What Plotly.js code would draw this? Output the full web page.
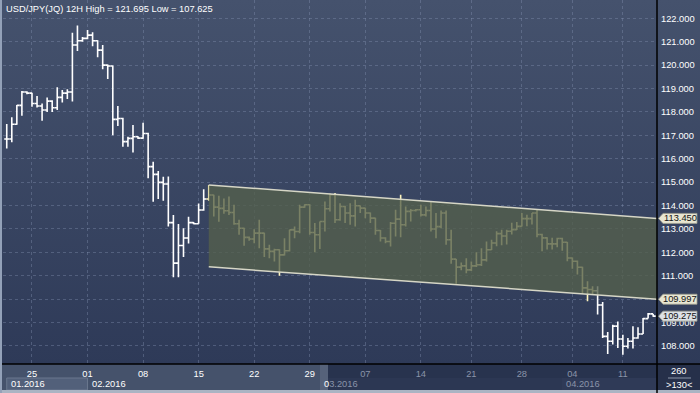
<!DOCTYPE html>
<html><head><meta charset="utf-8">
<script src="https://cdn.plot.ly/plotly-3.0.1.min.js"></script>
<style>
html,body{margin:0;padding:0;background:#2e3a58;}
#chart{width:700px;height:393px;background:linear-gradient(to bottom,#45526d 0px,#2e3a58 364px,#2e3a58 393px);}
</style></head><body><div id="chart"></div>
<script>
// ---- data (12H bars, USD/JPY) ----
const openP = [
116.84,116.84,117.47,118.28,118.85,118.80,118.36,118.25,118.08,118.46,
118.18,118.62,118.80,118.85,120.86,121.04,121.14,121.28,121.04,120.64,
120.00,119.96,117.68,117.72,116.73,116.87,116.94,116.88,117.08,115.66,
115.33,114.99,114.92,113.27,111.54,112.29,112.61,113.27,113.22,113.81,
114.28,114.45,113.93,113.88,113.78,113.70,113.22,113.03,112.64,112.57,
112.82,112.82,112.15,112.04,112.11,111.89,112.07,112.96,112.89,113.93,
114.03,112.85,112.75,113.32,113.86,114.46,113.39,113.96,113.68,113.56,
113.99,113.89,113.68,113.46,112.93,112.61,112.46,113.24,113.42,113.18,
113.75,113.79,113.82,113.60,113.79,113.00,113.10,113.68,112.54,111.71,
111.37,111.42,111.25,111.42,111.47,111.68,112.11,112.40,112.80,112.70,
112.90,112.97,113.11,113.44,113.44,113.68,112.76,112.62,112.36,112.36,
112.59,112.43,111.76,111.62,111.36,110.48,110.41,110.36,109.75,108.41,
108.20,108.85,108.30,107.99,108.20,108.34,108.51,109.17,109.37];
const highP = [
117.48,117.77,118.29,118.89,118.88,118.82,118.68,118.36,118.62,118.50,
119.05,118.93,118.97,121.38,121.695,121.20,121.50,121.40,121.06,120.86,
120.02,119.98,118.25,117.75,116.94,117.44,116.96,117.54,117.11,115.87,
115.47,115.23,115.24,113.59,113.21,113.03,113.52,113.30,114.09,114.69,
114.88,114.46,114.42,114.30,114.39,114.03,113.39,113.05,112.68,112.99,
113.39,112.84,112.32,112.15,112.13,112.60,112.96,113.10,114.03,114.05,
114.05,113.25,113.32,114.17,114.50,114.53,114.10,113.98,114.10,114.25,
114.00,113.90,113.70,113.48,112.95,112.65,113.30,113.82,114.46,113.96,
113.85,113.85,114.03,113.96,114.15,113.68,113.79,113.79,112.96,111.72,
111.57,111.75,111.61,112.00,112.18,112.46,112.54,112.90,112.97,112.97,
113.26,113.30,113.68,113.61,113.68,113.83,112.79,112.64,112.62,112.62,
112.62,112.44,111.78,111.65,111.38,110.76,110.55,110.55,109.88,108.60,
108.91,109.05,108.48,108.34,108.84,108.80,109.20,109.41,109.37];
const lowP = [
116.44,116.70,117.45,117.84,118.75,118.22,118.19,117.62,118.00,118.00,
118.08,118.40,118.55,118.44,120.60,121.00,121.10,120.80,120.33,119.82,
119.40,117.00,117.40,116.51,116.51,116.26,116.84,116.85,115.16,114.16,
114.28,114.20,113.10,110.94,110.94,111.80,112.38,113.20,113.22,113.78,
114.20,113.53,113.31,113.65,113.60,113.18,112.75,112.28,112.50,112.39,
112.18,111.80,111.75,111.61,111.00,111.87,112.04,112.60,112.82,113.90,
112.75,112.00,112.14,112.89,113.75,113.25,113.35,113.25,113.18,113.10,
113.68,113.46,113.25,112.75,112.46,112.39,112.25,112.68,112.65,113.10,
113.32,113.75,113.53,113.53,112.89,112.60,113.03,112.32,111.51,110.66,
111.23,111.11,111.20,111.37,111.42,111.61,112.10,112.26,112.30,112.33,
112.76,112.95,113.10,113.11,113.19,112.64,112.05,112.12,112.12,112.22,
112.07,111.62,111.30,111.05,110.22,109.91,110.22,109.34,108.34,107.66,
108.06,107.91,107.625,107.89,107.89,108.31,108.51,109.17,109.25];
const closeP = [
116.84,117.47,118.28,118.85,118.80,118.36,118.25,118.08,118.46,118.18,
118.62,118.80,118.85,120.86,121.04,121.14,121.28,121.04,120.64,120.00,
119.96,117.68,117.72,116.73,116.87,116.94,116.88,117.08,115.66,115.33,
114.99,114.92,113.27,111.54,112.29,112.61,113.27,113.22,113.81,114.28,
114.45,113.93,113.88,113.78,113.70,113.22,113.03,112.64,112.57,112.82,
112.82,112.15,112.04,112.11,111.89,112.07,112.96,112.89,113.93,114.03,
112.85,112.75,113.32,113.86,114.46,113.39,113.96,113.68,113.56,113.99,
113.89,113.68,113.46,112.93,112.61,112.46,113.24,113.42,113.18,113.75,
113.79,113.82,113.60,113.79,113.00,113.10,113.68,112.54,111.71,111.37,
111.42,111.25,111.42,111.47,111.68,112.11,112.40,112.80,112.70,112.90,
112.97,113.11,113.44,113.44,113.68,112.76,112.62,112.36,112.36,112.59,
112.43,111.76,111.62,111.36,110.48,110.41,110.36,109.75,108.41,108.20,
108.85,108.30,107.99,108.20,108.34,108.51,109.17,109.37,109.275];

// bar positions (one slot per 12H bar)
const barIdx = openP.map((_, i) => i);
// regression channel bars (highlighted) and channel lines
const channelBars = [40, 116];
const channelX = [40, 128.76];
const channelUpper = [114.88, 113.45];
const channelLower = [111.38, 109.997];

// axis labels
const dayTickIdx = [5, 16, 27, 38, 49, 60, 71, 82, 92, 102, 112, 122];
const dayTickLabels = ["25","01","08","15","22","29","07","14","21","28","04","11"];
const monthStartIdx = [0, 16, 62, 110];
const monthLabels = ["01.2016","02.2016","03.2016","04.2016"];
const priceTicks = [108,109,110,111,112,113,114,115,116,117,118,119,120,121,122];
const hiddenPriceTicks = [110];   // covered by the channel callout
const symbolName = "USD/JPY(JQ) 12H";
const barCountText = ["260", ">130<"];

// ---- helpers ----
const FONT = '"Liberation Sans", Arial, sans-serif';
const FS = 9.3;
const px = p => (p - 3) / 654;          // pixel -> paper x
const py = p => (364 - p) / 364;        // pixel -> paper y
const pick = (arr, cond) => arr.filter((_, i) => cond(i));
const inCh = i => i >= channelBars[0] && i <= channelBars[1];
const outCh = i => !inCh(i);
const esc = s => s.replace(/&/g,'&amp;').replace(/</g,'&lt;').replace(/>/g,'&gt;');

function ohlc(cond, color) {
  return {
    type: 'ohlc', x: pick(barIdx, cond), open: pick(openP, cond), high: pick(highP, cond),
    low: pick(lowP, cond), close: pick(closeP, cond), tickwidth: 0.5,
    increasing: {line: {color: color, width: 1.6}},
    decreasing: {line: {color: color, width: 1.6}},
    hoverinfo: 'skip', showlegend: false
  };
}

const traces = [
  {type: 'scatter', mode: 'lines', x: [channelX[0], channelX[1], channelX[1], channelX[0]],
   y: [channelUpper[0], channelUpper[1], channelLower[1], channelLower[0]],
   fill: 'toself', fillcolor: 'rgba(84,96,76,0.78)', line: {width: 0}, hoverinfo: 'skip', showlegend: false},
  {type: 'scatter', mode: 'lines', x: channelX, y: channelUpper, line: {color: '#d6d6c6', width: 1.5}, hoverinfo: 'skip', showlegend: false},
  {type: 'scatter', mode: 'lines', x: channelX, y: channelLower, line: {color: '#d6d6c6', width: 1.5}, hoverinfo: 'skip', showlegend: false},
  ohlc(outCh, '#ffffff'),
  ohlc(inCh, '#fff5be')
];

const hiTxt = Math.max(...highP).toFixed(3);
const loTxt = Math.min(...lowP).toFixed(3);

const shapes = [
  // bottom scale rows
  {type:'rect', xref:'paper', yref:'paper', x0:px(0), x1:px(320), y0:py(364), y1:py(390), fillcolor:'#45526b', line:{width:0}, layer:'below'},
  {type:'rect', xref:'paper', yref:'paper', x0:px(320), x1:px(657), y0:py(364), y1:py(378), fillcolor:'#28334e', line:{width:0}, layer:'below'},
  {type:'rect', xref:'paper', yref:'paper', x0:px(320), x1:px(657), y0:py(378), y1:py(390), fillcolor:'#2c3753', line:{width:0}, layer:'below'},
  {type:'rect', xref:'paper', yref:'paper', x0:px(562), x1:px(657), y0:py(378), y1:py(390), fillcolor:'#2f3a57', line:{width:0}, layer:'below'},
  {type:'rect', xref:'paper', yref:'paper', x0:px(320), x1:px(328), y0:py(364), y1:py(390), fillcolor:'#56627a', line:{width:0}, layer:'below'},
  {type:'rect', xref:'x', yref:'paper', x0:monthStartIdx[0], x1:monthStartIdx[1], y0:py(378), y1:py(390), fillcolor:'#52607a', line:{color:'#6b778e', width:1}, layer:'below'},
  // right bottom box
  {type:'rect', xref:'paper', yref:'paper', x0:px(657), x1:px(700), y0:py(364), y1:py(393), fillcolor:'#26304a', line:{width:0}, layer:'below'},
  {type:'line', xref:'paper', yref:'paper', x0:px(668), x1:px(691), y0:py(378), y1:py(378), line:{color:'#8b95a8', width:1}},
  // frame
  {type:'rect', xref:'paper', yref:'paper', x0:px(0), x1:px(700), y0:py(390), y1:py(393), fillcolor:'#aab4c3', line:{width:0}, layer:'below'},
  {type:'rect', xref:'paper', yref:'paper', x0:px(0), x1:px(2), y0:py(393), y1:py(0), fillcolor:'#93a1b8', line:{width:0}, layer:'below'},
  {type:'line', xref:'paper', yref:'paper', x0:px(657), x1:px(657), y0:py(0), y1:py(393), line:{color:'#000', width:1.5}},
  {type:'line', xref:'paper', yref:'paper', x0:px(2), x1:px(700), y0:py(364), y1:py(364), line:{color:'#000', width:1.5}}
];

const annotations = [
  {xref:'paper', yref:'paper', x:px(4), y:py(2), xanchor:'left', yanchor:'top', showarrow:false,
   text: symbolName + ' High = ' + hiTxt + ' Low = ' + loTxt, font:{family:FONT, size:FS, color:'#ffffff'}},
  {xref:'paper', yref:'paper', x:px(679), y:py(371), xanchor:'center', yanchor:'middle', showarrow:false,
   text:esc(barCountText[0]), font:{family:FONT, size:FS, color:'#ffffff'}},
  {xref:'paper', yref:'paper', x:px(679), y:py(385), xanchor:'center', yanchor:'middle', showarrow:false,
   text:esc(barCountText[1]), font:{family:FONT, size:FS, color:'#ffffff'}}
];

monthLabels.forEach((m, k) => {
  let txt = m;
  let col = k < 2 ? '#ffffff' : '#8a94a9';
  if (k === 2) txt = '<span style="color:#ffffff">' + m[0] + '</span>' + m.slice(1);
  annotations.push({xref:'x', yref:'paper', x:monthStartIdx[k], xshift:2, y:py(384), xanchor:'left', yanchor:'middle',
    showarrow:false, text:txt, font:{family:FONT, size:FS, color:col}});
});

// price callouts on the right scale
const callouts = [
  {v: channelUpper[1], fill: '#e8e6d2'},
  {v: channelLower[1], fill: '#e8e6d2'},
  {v: closeP[closeP.length - 1], fill: '#dde1e5'}
];
const hh = 5.0 / 23.4;
callouts.forEach(c => {
  const tip = px(658.5), bl = px(663), br = px(697);
  shapes.push({type:'path', xref:'paper', yref:'y', layer:'above',
    path:`M ${tip},${c.v} L ${bl},${c.v+hh} L ${br},${c.v+hh} L ${br},${c.v-hh} L ${bl},${c.v-hh} Z`,
    fillcolor:c.fill, line:{color:'#9d9d8e', width:0.8}});
  annotations.push({xref:'paper', yref:'y', x:px(680), y:c.v, xanchor:'center', yanchor:'middle', showarrow:false,
    text:c.v.toFixed(3), font:{family:FONT, size:FS, color:'#111111'}});
});

const dayTickText = dayTickLabels.map((t, i) =>
  '<span style="color:' + (dayTickIdx[i] < 63 ? '#ffffff' : '#8a94a9') + '">' + t + '</span>');
const priceTickText = priceTicks.map(v => hiddenPriceTicks.includes(v) ? '' : v.toFixed(3));

const layout = {
  width: 700, height: 393,
  margin: {l: 3, r: 43, t: 0, b: 29, pad: 0},
  paper_bgcolor: 'rgba(0,0,0,0)', plot_bgcolor: 'rgba(0,0,0,0)',
  showlegend: false, dragmode: false,
  font: {family: FONT, size: FS, color: '#ffffff'},
  xaxis: {range: [-0.74, 128.76], tickmode: 'array', tickvals: dayTickIdx, ticktext: dayTickText,
    showgrid: true, gridcolor: 'rgba(140,155,185,0.35)', griddash: 'dot', gridwidth: 1,
    zeroline: false, showline: false, ticks: '', ticklabelstandoff: 3,
    tickfont: {family: FONT, size: FS, color: '#ffffff'}, rangeslider: {visible: false}, fixedrange: true},
  yaxis: {side: 'right', range: [107.23, 122.78], tickmode: 'array', tickvals: priceTicks, ticktext: priceTickText,
    showgrid: true, gridcolor: 'rgba(140,155,185,0.35)', griddash: 'dot', gridwidth: 1,
    zeroline: false, showline: false, ticks: '', ticklabelstandoff: 3,
    tickfont: {family: FONT, size: FS, color: '#ffffff'}, fixedrange: true},
  shapes: shapes,
  annotations: annotations
};

Plotly.newPlot('chart', traces, layout, {displayModeBar: false, staticPlot: true});
</script></body></html>
